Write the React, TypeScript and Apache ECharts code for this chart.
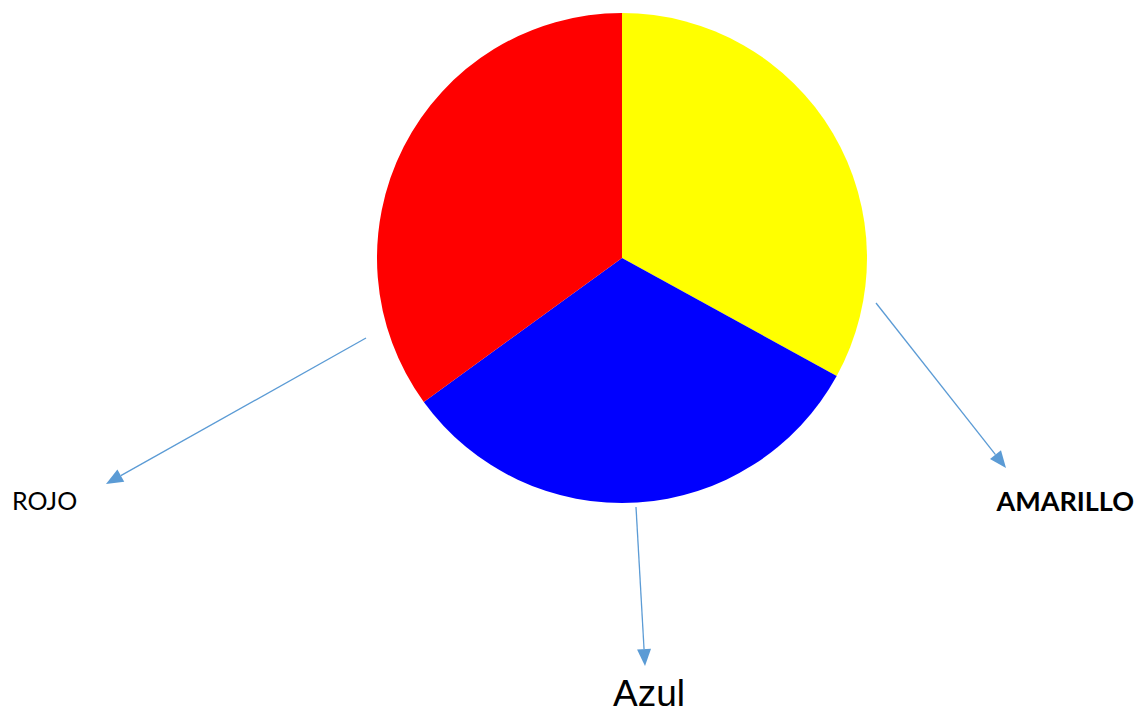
import React, { useEffect, useRef } from "react";
import * as echarts from "echarts";

const categories = ["AMARILLO", "Azul", "ROJO"];
const values = [33, 32, 35];
const colors = ["#FFFF00", "#0000FF", "#FF0000"];

export default function App() {
  const ref = useRef<HTMLDivElement>(null);
  useEffect(() => {
    if (!ref.current) return;
    const chart = echarts.init(ref.current, null, { renderer: "svg" });
    const arrowColor = "#5B9BD5";
    const arrows = [
      { from: [366, 338], to: [106, 484] },
      { from: [636, 507], to: [645, 666] },
      { from: [876, 303], to: [1006, 468] },
    ];
    const graphics: any[] = [];
    arrows.forEach((a) => {
      const [x1, y1] = a.from;
      const [x2, y2] = a.to;
      const dx = x2 - x1, dy = y2 - y1;
      const len = Math.sqrt(dx * dx + dy * dy);
      const ux = dx / len, uy = dy / len;
      const hl = 17, hw = 7;
      const bx = x2 - ux * hl, by = y2 - uy * hl;
      graphics.push({
        type: "line",
        shape: { x1, y1, x2: bx, y2: by },
        style: { stroke: arrowColor, lineWidth: 1.3 },
      });
      graphics.push({
        type: "polygon",
        shape: {
          points: [
            [x2, y2],
            [bx - uy * hw, by + ux * hw],
            [bx + uy * hw, by - ux * hw],
          ],
        },
        style: { fill: arrowColor },
      });
    });
    graphics.push({
      type: "text",
      x: 12,
      y: 500,
      style: { text: categories[2], font: "25px Lato", fill: "#000", textVerticalAlign: "middle" },
    });
    graphics.push({
      type: "text",
      x: 1134,
      y: 500,
      style: { text: categories[0], font: "bold 27px Lato", fill: "#000", textAlign: "right", textVerticalAlign: "middle" },
    });
    graphics.push({
      type: "text",
      x: 649,
      y: 712,
      style: { text: categories[1], font: "37px 'Liberation Sans'", fill: "#000", textAlign: "center", textVerticalAlign: "bottom" },
    });
    chart.setOption({
      animation: false,
      backgroundColor: "#fff",
      series: [
        {
          type: "pie",
          center: [622, 258],
          radius: 245,
          startAngle: 90,
          clockwise: true,
          label: { show: false },
          labelLine: { show: false },
          emphasis: { disabled: true },
          itemStyle: { borderWidth: 0 },
          data: categories.map((c, i) => ({ name: c, value: values[i], itemStyle: { color: colors[i] } })),
        },
      ],
      graphic: graphics,
    });
    return () => chart.dispose();
  }, []);
  return <div ref={ref} style={{ position: "absolute", left: 0, top: 0, width: 1136, height: 713 }} />;
}
